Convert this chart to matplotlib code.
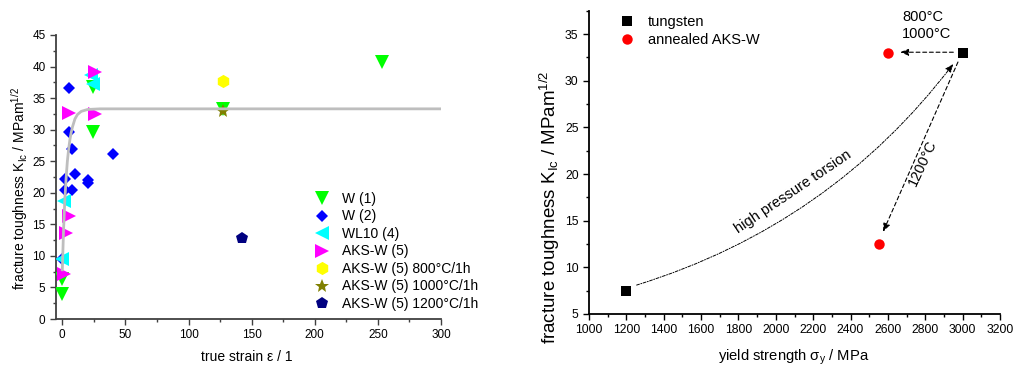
import matplotlib
matplotlib.use("Agg")
import matplotlib.pyplot as plt
from matplotlib.ticker import MultipleLocator

plt.rcParams['font.family'] = ['Liberation Sans', 'DejaVu Sans']
plt.rcParams['mathtext.default'] = 'regular'

# ---------------- data: left panel ----------------
w1_x = [0, 0, 24, 24, 127, 253]
w1_y = [4.0, 6.3, 36.7, 29.6, 33.3, 40.8]
w2_x = [5, 5, 8, 10, 2, 1.8, 8, 20, 20, 40, 0]
w2_y = [36.6, 29.7, 26.9, 23.0, 22.2, 20.5, 20.4, 22.1, 21.5, 26.2, 9.5]
wl10_x = [23, 24, 1.5, 0]
wl10_y = [38.7, 37.2, 18.7, 9.5]
aks_x = [25.5, 5.5, 25.5, 5, 3, 1]
aks_y = [39.2, 32.7, 32.5, 16.3, 13.6, 7.1]
aks800_x = [127]
aks800_y = [37.7]
aks1000_x = [127]
aks1000_y = [33.0]
aks1200_x = [142]
aks1200_y = [12.8]
fit_x = [0, 1, 2, 3, 4, 5, 6, 7, 8, 10, 12, 15, 20, 30, 300]
fit_y = [7.8, 14.2, 18.9, 22.3, 25.0, 26.9, 28.4, 29.5, 30.4, 31.7, 32.4, 32.9, 33.2, 33.3, 33.3]

# ---------------- data: right panel ----------------
tung_x = [1200, 3000]
tung_y = [7.5, 33.0]
ann_x = [2600, 2550]
ann_y = [33.0, 12.5]

fig = plt.figure(figsize=(10.13, 3.66), dpi=100)

# ================= left panel =================
axL = fig.add_axes([56/1013, 1-319/366, (441-56)/1013, (319-35)/366])
gray = '#404040'
series = [
    (w1_x, w1_y, 'v', '#00FF00', 9.5, 'W (1)'),
    (w2_x, w2_y, 'D', '#0000FF', 6.6, 'W (2)'),
    (wl10_x, wl10_y, '<', '#00FFFF', 9.5, 'WL10 (4)'),
    (aks_x, aks_y, '>', '#FF00FF', 9.5, 'AKS-W (5)'),
    (aks800_x, aks800_y, 'h', '#FFFF00', 9.5, 'AKS-W (5) 800°C/1h'),
    (aks1000_x, aks1000_y, '*', '#808000', 10.5, 'AKS-W (5) 1000°C/1h'),
    (aks1200_x, aks1200_y, 'p', '#000080', 9, 'AKS-W (5) 1200°C/1h'),
]
handles = []
for xs, ys, m, c, ms, lab in series:
    h, = axL.plot(xs, ys, linestyle='none', marker=m, color=c, markersize=ms,
                  markeredgewidth=0, label=lab, zorder=3)
    handles.append(h)
axL.plot(fit_x, fit_y, color='#BEBEBE', lw=2, zorder=4)

axL.set_xlim(-5, 300)
axL.set_ylim(0, 45)
axL.xaxis.set_major_locator(MultipleLocator(50))
axL.xaxis.set_minor_locator(MultipleLocator(25))
axL.yaxis.set_major_locator(MultipleLocator(5))
axL.yaxis.set_minor_locator(MultipleLocator(2.5))
for s in ['top', 'right']:
    axL.spines[s].set_visible(False)
for s in ['left', 'bottom']:
    axL.spines[s].set_color(gray)
    axL.spines[s].set_linewidth(1.3)
axL.tick_params(which='major', direction='out', length=4, width=1, colors=gray,
                labelsize=8.5, labelcolor='black')
axL.tick_params(which='minor', direction='out', length=2.5, width=1, colors=gray)
axL.set_xlabel('true strain ε / 1', fontsize=10)
axL.set_ylabel(r'fracture toughness K$_{Ic}$ / MPam$^{1/2}$', fontsize=10)
axL.xaxis.set_label_coords(0.496, -0.11)
axL.yaxis.set_label_coords(-0.068, 0.458)
axL.legend(handles=handles, loc='upper left', bbox_to_anchor=(315/1013, 1-192/366),
           bbox_transform=fig.transFigure, frameon=False, fontsize=10,
           handlelength=1.0, handletextpad=0.94, labelspacing=0.25,
           borderpad=0, borderaxespad=0, numpoints=1)

# ================= right panel =================
axR = fig.add_axes([589/1013, 1-314/366, (1000-589)/1013, (314-10.7)/366])
h1, = axR.plot(tung_x, tung_y, linestyle='none', marker='s', color='black',
               markersize=6.5, markeredgewidth=0, label='tungsten', zorder=3)
h2, = axR.plot(ann_x, ann_y, linestyle='none', marker='o', color='#FF0000',
               markersize=7.5, markeredgewidth=0, label='annealed AKS-W', zorder=3)

# annotations
axR.annotate('', xy=(2665, 33.05), xytext=(2950, 33.05),
             arrowprops=dict(arrowstyle='-|>,head_length=0.5,head_width=0.2',
                             linestyle=(0, (3.5, 2.5)), color='black', lw=0.8,
                             shrinkA=0, shrinkB=0))
axR.annotate('', xy=(2574, 13.8), xytext=(2975, 32.0),
             arrowprops=dict(arrowstyle='-|>,head_length=0.5,head_width=0.2',
                             linestyle=(0, (3.5, 2.5)), color='black', lw=0.8,
                             shrinkA=0, shrinkB=0))
axR.annotate('', xy=(2950, 31.8), xytext=(1255, 8.1),
             arrowprops=dict(arrowstyle='-|>,head_length=0.5,head_width=0.2',
                             linestyle=(0, (3, 1.5, 1, 1.5)), color='black', lw=0.7,
                             shrinkA=0, shrinkB=0, connectionstyle='arc3,rad=0.16'))
axR.text(2675, 35.9, '800°C\n1000°C', fontsize=10.5, ha='left', va='center',
         linespacing=1.3, clip_on=False)
axR.text(2092, 18.1, 'high pressure torsion', fontsize=10.5, rotation=34,
         ha='center', va='center', rotation_mode='anchor')
axR.text(2788, 21.2, '1200°C', fontsize=10.5, rotation=65,
         ha='center', va='center', rotation_mode='anchor')

axR.set_xlim(1000, 3200)
axR.set_ylim(5, 37.5)
axR.xaxis.set_major_locator(MultipleLocator(200))
axR.xaxis.set_minor_locator(MultipleLocator(100))
axR.yaxis.set_major_locator(MultipleLocator(5))
axR.yaxis.set_minor_locator(MultipleLocator(2.5))
for s in ['top', 'right']:
    axR.spines[s].set_visible(False)
for s in ['left', 'bottom']:
    axR.spines[s].set_linewidth(1.3)
axR.tick_params(which='major', direction='out', length=4, width=1, labelsize=8.8)
axR.tick_params(which='minor', direction='out', length=2.5, width=1)
axR.set_xlabel(r'yield strength $σ_y$ / MPa', fontsize=10.6)
axR.set_ylabel(r'fracture toughness K$_{Ic}$ / MPam$^{1/2}$', fontsize=13.5)
axR.xaxis.set_label_coords(0.499, -0.112)
axR.yaxis.set_label_coords(-0.066, 0.353)
axR.legend(handles=[h1, h2], loc='upper left', bbox_to_anchor=(619.7/1013, 1-15/366),
           bbox_transform=fig.transFigure, frameon=False, fontsize=10.5,
           handlelength=1.0, handletextpad=0.94, labelspacing=0.3,
           borderpad=0, borderaxespad=0, numpoints=1)

fig.savefig('out.png', dpi=100)
